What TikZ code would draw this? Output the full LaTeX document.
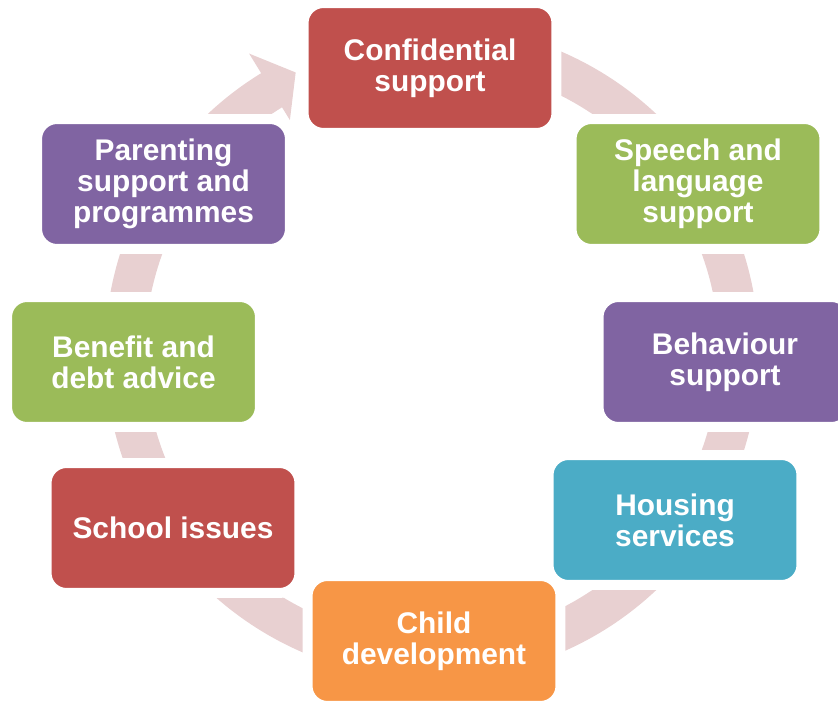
\documentclass[tikz,border=0pt]{standalone}
\usepackage{fontspec}
\setmainfont{Liberation Sans}
\usepackage[RGB]{xcolor}
\usepackage{tikz}
\definecolor{R}{RGB}{192,80,77}
\definecolor{G}{RGB}{155,187,89}
\definecolor{P}{RGB}{128,100,162}
\definecolor{A}{RGB}{75,172,198}
\definecolor{O}{RGB}{247,150,70}
\definecolor{ring}{RGB}{232,208,209}
\tikzset{
  cardbox/.style={draw=white, line width=0.2cm, rounded corners=0.4cm,
    minimum width=5.06cm, minimum height=2.6cm, inner sep=0pt,
    text=white, align=center, font=\bfseries\fontsize{17}{17.6}\selectfont}
}

\begin{document}
\begin{tikzpicture}[x=0.02cm, y=0.02cm]
\useasboundingbox (0,0) rectangle (838,700);
% ring arrow behind the boxes
\fill[ring, shift={(432,348)}] (100:327) arc[start angle=100, end angle=-238.5, radius=327]
    -- (121.5:350) -- (116:311) -- (121.5:272) -- (121.5:287)
    arc[start angle=-238.5, end angle=100, radius=287] -- cycle;
% boxes
\node[cardbox, fill=R] (conf) at (430,632) {Confidential\\support};
\node[cardbox, fill=G] (speech) at (698,516) {Speech and\\language\\support};
\node[cardbox, fill=P] (behav) at (725,338) {Behaviour\\support};
\node[cardbox, fill=A] (housing) at (675,180) {Housing\\services};
\node[cardbox, fill=O] (child) at (434,59) {Child\\development};
\node[cardbox, fill=R] (school) at (173,172) {School issues};
\node[cardbox, fill=G] (benefit) at (133.5,338) {Benefit and\\debt advice};
\node[cardbox, fill=P] (parent) at (163.5,516) {Parenting\\support and\\programmes};
\end{tikzpicture}
\end{document}
